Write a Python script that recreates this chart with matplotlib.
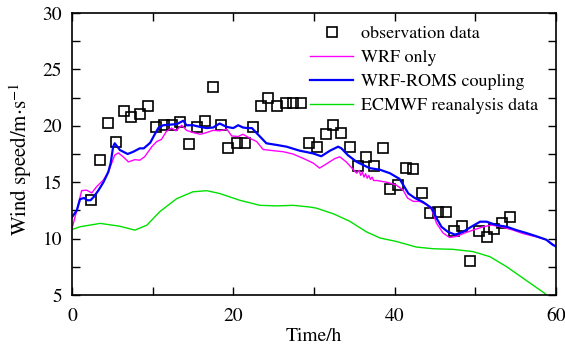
import numpy as np
import matplotlib
matplotlib.use('Agg')
import matplotlib.pyplot as plt
from matplotlib.ticker import MultipleLocator

plt.rcParams['font.family'] = ['STIXGeneral', 'DejaVu Serif']
plt.rcParams['mathtext.fontset'] = 'stix'

# observation data (hour, wind speed)
obs_t = [2.4, 3.5, 4.5, 5.5, 6.45, 7.35, 8.4, 9.45, 10.45, 11.4, 12.4, 13.4,
         14.5, 15.5, 16.5, 17.5, 18.5, 19.4, 20.5, 21.5, 22.4, 23.4, 24.3, 25.4,
         26.5, 27.4, 28.45, 29.35, 30.4, 31.5, 32.4, 33.4, 34.45, 35.4, 36.4,
         37.5, 38.5, 39.4, 40.4, 41.4, 42.3, 43.45, 44.4, 45.4, 46.4, 47.3,
         48.35, 49.4, 50.5, 51.4, 52.3, 53.3, 54.3]
obs_v = [13.45, 17.0, 20.25, 18.6, 21.3, 20.75, 21.05, 21.75, 19.85, 20.1, 20.1, 20.35,
         18.4, 19.85, 20.45, 23.45, 20.1, 18.0, 18.5, 18.5, 19.85, 21.75, 22.45, 21.8,
         22.0, 22.05, 22.0, 18.45, 18.15, 19.25, 20.1, 19.4, 18.1, 16.45, 17.2,
         16.45, 18.0, 14.4, 14.75, 16.3, 16.2, 14.0, 12.3, 12.35, 12.35, 10.7,
         11.15, 8.05, 10.7, 10.1, 10.85, 11.4, 11.9]

# WRF only
wrf_t = [0, 0.6, 1.2, 1.8, 2.45, 3.05, 3.9, 4.5, 4.9, 5.3, 5.75, 6.35, 7.0, 7.8,
         8.4, 9.0, 9.9, 10.5, 11.1, 11.7, 12.35, 12.9, 13.6, 14.2, 15.0, 15.9,
         16.7, 17.5, 18.3, 19.2, 19.8, 20.6, 21.2, 22.05, 22.9, 23.7, 24.9, 26.2,
         27.4, 28.7, 29.9, 30.7, 31.6, 32.6, 33.2, 34.0, 34.9, 35.3, 35.6, 35.8,
         36.0, 36.2, 36.4, 36.6, 36.8, 37.0, 37.2, 37.4, 37.8, 39.0, 40.2, 41.05,
         41.6, 42.3, 43.1, 44.0, 44.6, 45.2, 46.0, 46.8, 47.7, 48.7, 49.7, 51.0,
         52.0, 53.2, 54.7, 55.9, 57.6, 58.8, 60]
wrf_v = [10.9, 12.5, 14.25, 14.3, 14.05, 14.6, 15.2, 15.9, 16.65, 17.4, 17.6, 17.25,
         16.8, 17.0, 16.95, 17.25, 18.15, 18.6, 18.8, 19.5, 19.8, 19.55, 20.05, 19.6,
         19.4, 19.25, 19.4, 19.6, 19.55, 19.7, 19.1, 19.05, 19.25, 18.9, 18.6, 17.9,
         17.8, 17.7, 17.5, 17.1, 16.7, 16.25, 16.65, 17.1, 17.25, 16.8, 16.1, 15.8,
         16.05, 15.6, 15.9, 15.45, 15.75, 15.35, 15.6, 15.25, 15.45, 15.15, 15.15, 15.0,
         14.75, 14.3, 13.6, 13.3, 13.3, 13.0, 12.55, 11.35, 10.5, 10.1, 10.2, 10.5,
         10.75, 11.05, 11.2, 11.05, 10.75, 10.45, 10.15, 9.9, 9.3]

# WRF-ROMS coupling
roms_t = [0, 0.6, 1.0, 1.5, 1.9, 2.3, 2.7, 3.3, 3.9, 4.5, 4.8, 5.1, 5.3, 5.95,
          6.9, 7.6, 8.4, 8.9, 9.7, 10.3, 10.7, 11.3, 12.1, 13.0, 13.8, 14.2, 15.0,
          15.9, 16.7, 17.5, 18.3, 19.2, 20.0, 20.6, 21.2, 21.7, 22.3, 23.1, 24.1,
          25.4, 26.6, 28.2, 29.9, 30.9, 32.0, 33.0, 33.4, 34.2, 35.3, 36.9, 38.2,
          39.4, 40.6, 41.2, 41.7, 42.5, 43.5, 44.6, 45.2, 45.8, 46.6, 47.5, 48.5,
          49.5, 50.6, 51.4, 52.6, 53.9, 55.1, 56.3, 57.6, 58.8, 59.6, 60]
roms_v = [11.9, 12.5, 13.5, 13.6, 13.4, 13.4, 13.7, 14.3, 15.0, 15.9, 16.7, 18.15,
          18.45, 17.85, 17.5, 17.7, 18.0, 18.0, 18.5, 19.3, 19.8, 20.05, 20.1, 20.15,
          20.45, 20.05, 20.05, 19.9, 19.8, 19.85, 20.2, 19.9, 19.8, 20.05, 19.85, 19.8,
          19.8, 19.2, 18.45, 18.3, 18.15, 17.8, 17.55, 17.3, 17.8, 18.15, 18.0, 17.4,
          16.8, 16.25, 16.1, 15.8, 15.3, 14.6, 14.0, 13.6, 13.25, 12.7, 11.8, 11.05,
          10.6, 10.35, 10.6, 11.05, 11.5, 11.5, 11.2, 11.05, 10.75, 10.5, 10.2, 9.9,
          9.45, 9.3]

# ECMWF reanalysis data
ecmwf_t = [0, 1.0, 3.5, 5.9, 7.8, 9.3, 10.9, 13.0, 15.0, 16.7, 18.3, 20.8, 23.3,
           25.4, 27.4, 29.5, 30.3, 32.4, 34.4, 36.5, 38.2, 40.2, 42.7, 44.8, 47.2,
           49.7, 51.8, 53.9, 55.9, 58.6, 60]
ecmwf_v = [10.8, 11.05, 11.35, 11.1, 10.75, 11.2, 12.4, 13.55, 14.15, 14.25, 14.0,
           13.4, 12.95, 12.9, 12.95, 12.8, 12.7, 12.2, 11.55, 10.6, 10.05, 9.75, 9.25,
           9.1, 9.05, 8.85, 8.4, 7.5, 6.5, 5.15, 4.2]

fig = plt.figure(figsize=(5.65, 3.46), dpi=100)
ax = fig.add_axes([0.1274, 0.1474, 0.8566, 0.815])

ax.plot(obs_t, obs_v, 's', mfc='none', mec='black', ms=7, mew=1.2,
        label='observation data')
ax.plot(wrf_t, wrf_v, color='#ff00ff', lw=1.0, label='WRF only')
ax.plot(roms_t, roms_v, color='#0000ff', lw=1.6, label='WRF-ROMS coupling')
ax.plot(ecmwf_t, ecmwf_v, color='#00e000', lw=1.0, label='ECMWF reanalysis data')

ax.set_xlim(0, 60)
ax.set_ylim(5, 30)
ax.xaxis.set_major_locator(MultipleLocator(20))
ax.xaxis.set_minor_locator(MultipleLocator(10))
ax.yaxis.set_major_locator(MultipleLocator(5))
ax.yaxis.set_minor_locator(MultipleLocator(2.5))
ax.tick_params(which='both', direction='in', top=True, right=True, labelsize=14,
               width=1.0)
ax.tick_params(which='major', length=6)
ax.tick_params(axis='x', which='major', pad=9)
ax.tick_params(axis='y', which='major', pad=7)
ax.tick_params(which='minor', length=6)
for s in ax.spines.values():
    s.set_linewidth(1.2)

ax.set_xlabel('Time/h', fontsize=14, labelpad=2)
ax.set_ylabel(r'Wind speed/m$\cdot$s$^{-1}$', fontsize=15)
ax.yaxis.set_label_coords(-0.078, 0.48)

ax.legend(loc='upper right', frameon=False, fontsize=13, handlelength=2.4,
          handletextpad=0.45, labelspacing=0.4, borderaxespad=0.3,
          bbox_to_anchor=(0.99, 1.0))

fig.savefig('out.png', dpi=100)
